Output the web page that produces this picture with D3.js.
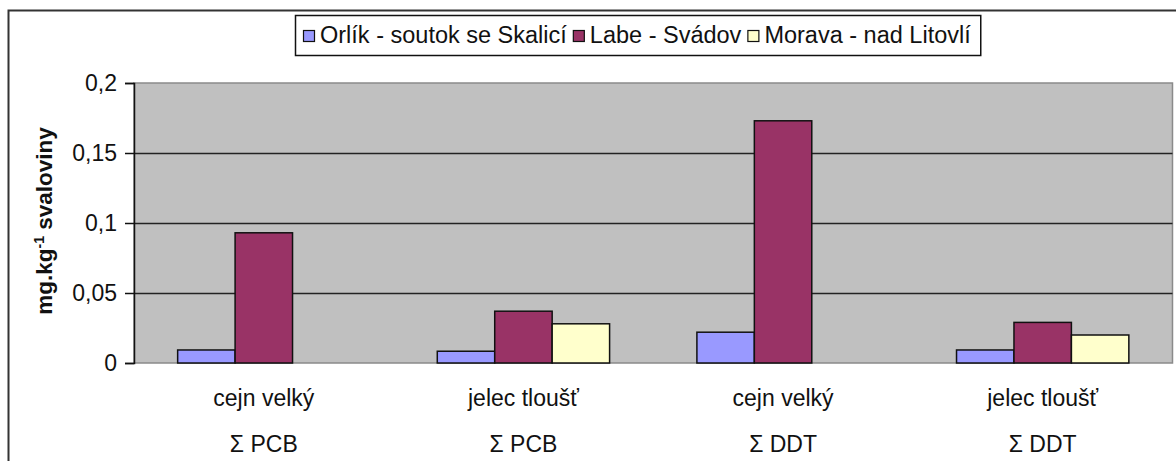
<!DOCTYPE html>
<html><head><meta charset="utf-8">
<script src="https://cdn.jsdelivr.net/npm/d3@7"></script>
<style>
html,body{margin:0;padding:0;background:#fff;}
svg{display:block;font-family:"Liberation Sans",Arial,sans-serif;}
</style></head>
<body>
<svg id="chart" width="1176" height="461"></svg>
<script>
const categories = ["cejn velký|Σ PCB", "jelec tloušť|Σ PCB", "cejn velký|Σ DDT", "jelec tloušť|Σ DDT"];
const seriesNames = ["Orlík - soutok se Skalicí", "Labe - Svádov", "Morava - nad Litovlí"];
const orlik  = [0.0093, 0.0084, 0.022, 0.0093];
const labe   = [0.093, 0.037, 0.173, 0.029];
const morava = [null, 0.028, null, 0.020];
const yTicks = [0, 0.05, 0.1, 0.15, 0.2];
const yTickLabels = ["0", "0,05", "0,1", "0,15", "0,2"];
const colors = ["#9999FF", "#993366", "#FFFFCC"];

const seriesValues = [orlik, labe, morava];
const svg = d3.select("#chart");

// outer frame
svg.append("rect").attr("x", 8.5).attr("y", 10.5).attr("width", 1300).attr("height", 600)
  .attr("fill", "#fff").attr("stroke", "#333").attr("stroke-width", 2);

const plot = {left: 134, right: 1172.5, top: 83, bottom: 363};

const x0 = d3.scaleBand().domain(categories).range([plot.left, plot.right]).paddingInner(0).paddingOuter(0);
const x1 = d3.scaleBand().domain(seriesNames).range([0, x0.bandwidth()]).paddingInner(0).paddingOuter(0.76);
const y = d3.scaleLinear().domain([0, 0.2]).range([plot.bottom, plot.top]);

// plot background
svg.append("rect").attr("x", plot.left).attr("y", plot.top)
  .attr("width", plot.right - plot.left).attr("height", plot.bottom - plot.top)
  .attr("fill", "#C0C0C0").attr("stroke", "#8a8a8a").attr("stroke-width", 1.5);

// gridlines
svg.append("g").selectAll("line").data(yTicks.filter(t => t > 0 && t < 0.2)).join("line")
  .attr("x1", plot.left).attr("x2", plot.right)
  .attr("y1", d => Math.round(y(d)) + 0.5).attr("y2", d => Math.round(y(d)) + 0.5)
  .attr("stroke", "#222").attr("stroke-width", 1.5);

// y axis
const yAxis = d3.axisLeft(y).tickValues(yTicks).tickSize(9).tickPadding(8)
  .tickFormat((d, i) => yTickLabels[i]);
const yg = svg.append("g").attr("transform", `translate(${plot.left},0)`).call(yAxis);
yg.select(".domain").attr("stroke", "#111").attr("stroke-width", 1.5);
yg.selectAll(".tick line").attr("stroke", "#111").attr("stroke-width", 1.5);
yg.selectAll(".tick text").attr("font-size", 23).attr("fill", "#111")
  .attr("font-family", "'Liberation Sans',Arial,sans-serif");

// bars
const groups = svg.append("g").selectAll("g").data(categories).join("g")
  .attr("transform", d => `translate(${x0(d)},0)`);
groups.selectAll("rect").data((d, ci) => seriesNames.map((s, si) => ({s, v: seriesValues[si][ci], si})).filter(o => o.v != null))
  .join("rect")
  .attr("x", d => x1(d.s)).attr("width", x1.bandwidth())
  .attr("y", d => y(d.v)).attr("height", d => y(0) - y(d.v))
  .attr("fill", d => colors[d.si]).attr("stroke", "#111").attr("stroke-width", 1.5);

// category labels
const cl = svg.append("g").selectAll("g").data(categories).join("g")
  .attr("transform", d => `translate(${x0(d) + x0.bandwidth() / 2},0)`);
cl.append("text").attr("y", 406).attr("text-anchor", "middle").attr("font-size", 23).attr("fill", "#111")
  .text(d => d.split("|")[0]);
cl.append("text").attr("y", 452).attr("text-anchor", "middle").attr("font-size", 23).attr("fill", "#111")
  .text(d => d.split("|")[1]);

// y title
const yt = svg.append("text").attr("transform", "translate(52,221) rotate(-90)")
  .attr("text-anchor", "middle").attr("font-size", 22.5).attr("font-weight", "bold").attr("fill", "#111");
yt.append("tspan").text("mg.kg");
yt.append("tspan").attr("dy", -8).attr("font-size", 14).text("-1");
yt.append("tspan").attr("dy", 8).text(" svaloviny");

// legend
const leg = svg.append("g");
const legBox = leg.append("rect").attr("x", 295.5).attr("y", 15.5).attr("height", 40)
  .attr("fill", "#fff").attr("stroke", "#111").attr("stroke-width", 1.5);
let lx = 303;
seriesNames.forEach((name, i) => {
  leg.append("rect").attr("x", lx + 0.5).attr("y", 30.5).attr("width", 11).attr("height", 11)
    .attr("fill", colors[i]).attr("stroke", "#111").attr("stroke-width", 1.2);
  const t = leg.append("text").attr("x", lx + 17).attr("y", 43).attr("font-size", 23.5).attr("fill", "#111").text(name);
  lx = lx + 17 + t.node().getComputedTextLength() + 6;
});
legBox.attr("width", lx + 4 - 295.5);
</script>
</body></html>
